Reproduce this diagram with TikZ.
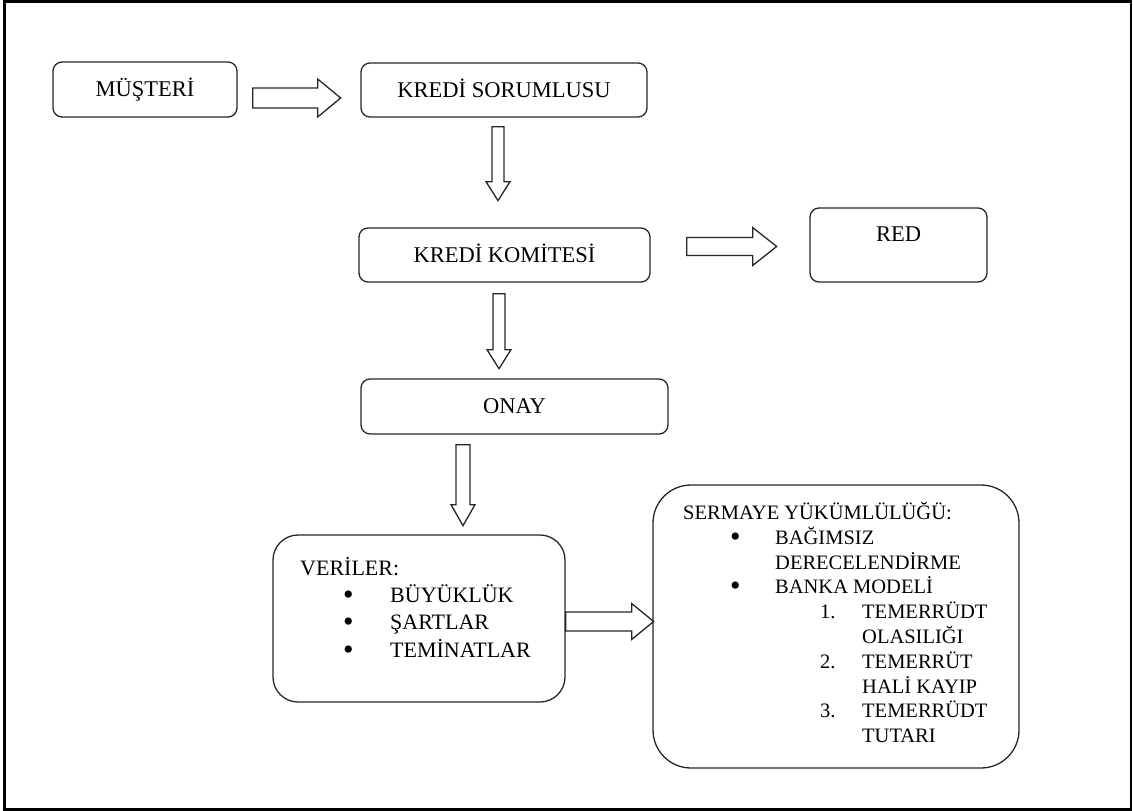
\documentclass[tikz,border=0pt]{standalone}
\usepackage{fontspec}
\setmainfont{Liberation Serif}
\usetikzlibrary{calc}
\tikzset{
  box/.style={draw=black!85, line width=1.3pt, rounded corners=9pt, inner sep=0pt,
    font=\fontsize{22.5}{26}\selectfont, text height=14.9pt, text depth=0pt},
  bigbox/.style={draw=black!85, line width=1.3pt, inner sep=0pt},
  blk/.style={draw=black!85, line width=1.3pt, line join=miter},
  ttxt/.style={anchor=base, inner sep=0pt, font=\fontsize{22.5}{26}\selectfont},
  vtxt/.style={anchor=base west, inner sep=0pt, font=\fontsize{22}{26}\selectfont},
  stxt/.style={anchor=base west, inner sep=0pt, font=\fontsize{20.5}{24}\selectfont},
  bul/.style={anchor=base west, inner sep=0pt, font=\fontsize{30}{30}\selectfont},
  frame/.style={draw=black, line width=2.5pt}
}
% right-pointing block arrow: start, length, shaft half, head half, head length
\newcommand{\blkR}[5]{\draw[blk] (#1) ++(0,-#3) -- ++({#2-#5},0) -- ++(0,{-(#4-#3)}) -- ++(#5,#4) -- ++(-#5,#4) -- ++(0,{-(#4-#3)}) -- ++({-(#2-#5)},0) -- cycle;}
% down-pointing block arrow
\newcommand{\blkD}[5]{\draw[blk] (#1) ++(-#3,0) -- ++(0,{#2-#5}) -- ++({-(#4-#3)},0) -- ++(#4,#5) -- ++(#4,-#5) -- ++({-(#4-#3)},0) -- ++(0,{-(#2-#5)}) -- cycle;}
\begin{document}
\begin{tikzpicture}[x=1pt,y=-1pt]
\useasboundingbox (0,0) rectangle (1133,811);
\draw[frame] (4.5,1.5) rectangle (1130.8,809.3);

% nodes
\node[box, minimum width=184pt, minimum height=55pt] (musteri) at (145,89.5) {MÜŞTERİ};
\node[box, minimum width=286pt, minimum height=54pt] (kredi) at (504,90) {KREDİ SORUMLUSU};
\node[box, minimum width=291pt, minimum height=54pt] (komite) at (504.5,255) {KREDİ KOMİTESİ};
\node[box, minimum width=177pt, minimum height=74pt] (red) at (898.5,245) {};
\node[ttxt] (redt) at ($(red.north)+(0,34)$) {RED};
\node[box, minimum width=307pt, minimum height=55pt] (onay) at (514.5,406.5) {ONAY};
\node[bigbox, rounded corners=25pt, minimum width=292pt, minimum height=167pt] (veriler) at (419,618.5) {};
\node[bigbox, rounded corners=38pt, minimum width=366pt, minimum height=283pt] (sermaye) at (836,626.5) {};

% veriler text
\node[vtxt] (v0) at (300,575) {VERİLER:};
\node[bul] (vb1) at (343,604) {\textbullet};
\node[vtxt] (v1) at (390,602) {BÜYÜKLÜK};
\node[bul] (vb2) at (343,631.5) {\textbullet};
\node[vtxt] (v2) at (390,629.5) {ŞARTLAR};
\node[bul] (vb3) at (343,659) {\textbullet};
\node[vtxt] (v3) at (390,657) {TEMİNATLAR};

% sermaye text
\node[stxt] (s0) at (683,519) {SERMAYE YÜKÜMLÜLÜĞÜ:};
\node[bul] (sb1) at (730,546) {\textbullet};
\node[stxt] (s1) at (775,544) {BAĞIMSIZ};
\node[stxt] (s2) at (775,569) {DERECELENDİRME};
\node[bul] (sb2) at (730,595) {\textbullet};
\node[stxt] (s3) at (775,593) {BANKA MODELİ};
\node[stxt] (n1) at (820,618) {1.};
\node[stxt] (s4) at (862,618) {TEMERRÜDT};
\node[stxt] (s5) at (862,643) {OLASILIĞI};
\node[stxt] (n2) at (820,668) {2.};
\node[stxt] (s6) at (862,668) {TEMERRÜT};
\node[stxt] (s7) at (862,693) {HALİ KAYIP};
\node[stxt] (n3) at (820,717) {3.};
\node[stxt] (s8) at (862,717) {TEMERRÜDT};
\node[stxt] (s9) at (862,742) {TUTARI};

% block arrows
\coordinate (a1) at ($(musteri.east)+(15,8.5)$);
\coordinate (a2) at ($(kredi.south)+(-6,9)$);
\coordinate (a3) at ($(komite.east)+(36,-8.5)$);
\coordinate (a4) at ($(komite.south)+(-5.5,11)$);
\coordinate (a5) at ($(onay.south)+(-51.5,10)$);
\coordinate (a6) at ($(veriler.east)+(0,3)$);
\blkR{a1}{88}{10}{19}{23}
\blkD{a2}{74}{6}{12}{19}
\blkR{a3}{90}{9}{19}{24}
\blkD{a4}{75}{6}{12}{19}
\blkD{a5}{81}{7}{12}{21}
\blkR{a6}{88}{9.5}{18}{22}
\end{tikzpicture}
\end{document}
